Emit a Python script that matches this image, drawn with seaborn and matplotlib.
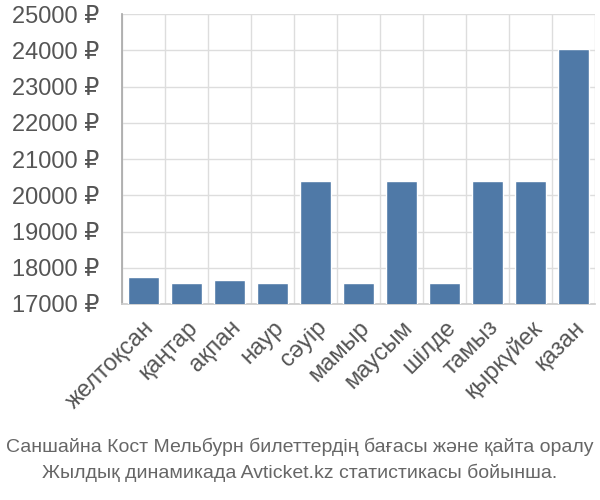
import numpy as np
import matplotlib
matplotlib.use("Agg")
import matplotlib.pyplot as plt
import seaborn as sns
from matplotlib import font_manager

months = ["желтоқсан", "қаңтар", "ақпан", "наур", "сәуір", "мамыр",
          "маусым", "шілде", "тамыз", "қыркүйек", "қазан"]
prices = [17750, 17570, 17660, 17570, 20390, 17570, 20390, 17570, 20390, 20390, 24030]
yticks = [17000, 18000, 19000, 20000, 21000, 22000, 23000, 24000, 25000]
title_lines = ["Саншайна Кост Мельбурн билеттердің бағасы және қайта оралу",
               "Жылдық динамикада Avticket.kz статистикасы бойынша."]

sns.set_theme(style="white")
names = {f.name for f in font_manager.fontManager.ttflist}
narrow = "Liberation Sans Narrow" if "Liberation Sans Narrow" in names else "Liberation Sans"
plt.rcParams["font.family"] = ["Liberation Sans", "DejaVu Sans"]

fig = plt.figure(figsize=(6, 5), dpi=100)
ax = fig.add_axes([0.203, 0.392, 0.789, 0.58])

sns.barplot(x=months, y=prices, color="#4f79a7", saturation=1, width=0.71, ax=ax, zorder=3)

ax.set_ylim(17000, 25000)
ax.set_xlim(-0.5, len(months) - 0.5)
ax.set_yticks(yticks)
ax.set_yticklabels([f"{v} ₽" for v in yticks], fontsize=17, color="#555555")
ax.set_xticks(range(len(months)))
ax.set_xticklabels(months, rotation=45, ha="right", va="top", rotation_mode="anchor",
                   fontsize=17, color="#555555")
ax.set_xticks(np.arange(-0.5, len(months), 1), minor=True)
ax.tick_params(axis="x", which="major", length=0, pad=9)
ax.tick_params(axis="x", which="minor", length=14, width=1, color="#dddddd")
ax.tick_params(axis="y", which="major", length=14, width=1, color="#dddddd", pad=2)
ax.grid(axis="y", which="major", color="#dddddd", lw=1, zorder=0)
ax.grid(axis="x", which="minor", color="#dddddd", lw=1, zorder=0)
ax.set_axisbelow(True)
for s in ["top", "right"]:
    ax.spines[s].set_visible(False)
ax.spines["left"].set_color("#aaaaaa")
ax.spines["bottom"].set_color("#cccccc")
ax.set_xlabel("")
ax.set_ylabel("")

fig.text(0.5, 0.106, title_lines[0], ha="center", va="center", fontsize=14,
         color="#666666", family=[narrow, "DejaVu Sans"])
fig.text(0.5, 0.054, title_lines[1], ha="center", va="center", fontsize=14,
         color="#666666", family=[narrow, "DejaVu Sans"])

fig.savefig("out.png", dpi=100)
